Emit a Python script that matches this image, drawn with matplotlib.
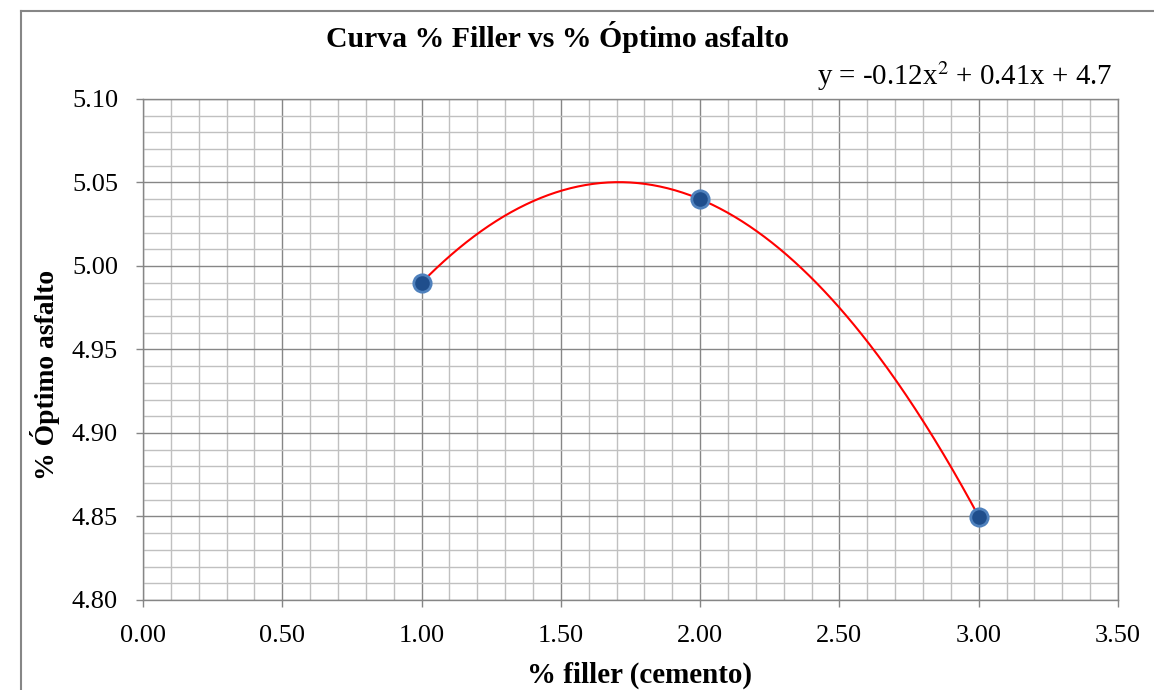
import numpy as np
import matplotlib
matplotlib.use("Agg")
import matplotlib.pyplot as plt
from matplotlib.ticker import MultipleLocator, FormatStrFormatter
from matplotlib.lines import Line2D

# Data
filler = [1.0, 2.0, 3.0]
optimo = [4.99, 5.04, 4.85]
title = "Curva % Filler vs % Óptimo asfalto"
xlabel = "% filler (cemento)"
ylabel = "% Óptimo asfalto"

plt.rcParams['font.family'] = ['Liberation Serif', 'DejaVu Serif']
plt.rcParams['mathtext.fontset'] = 'stix'

W, H = 1154, 690
fig = plt.figure(figsize=(W/100, H/100), dpi=100)
ax = fig.add_axes([143/W, 1 - 600/H, (1118-143)/W, (600-99)/H])

# polynomial trendline (order 2)
coef = np.polyfit(filler, optimo, 2)
xs = np.linspace(min(filler), max(filler), 300)
ax.plot(xs, np.polyval(coef, xs), color='#FF0000', lw=1.5, zorder=3)
ax.plot(filler, optimo, 'o', ms=12.5, mfc='#1F4E8C', mec='#4F81BD', mew=2, zorder=4)

ax.set_xlim(0, 3.5)
ax.set_ylim(4.80, 5.10)
ax.xaxis.set_major_locator(MultipleLocator(0.5))
ax.xaxis.set_minor_locator(MultipleLocator(0.1))
ax.yaxis.set_major_locator(MultipleLocator(0.05))
ax.yaxis.set_minor_locator(MultipleLocator(0.01))
ax.xaxis.set_major_formatter(FormatStrFormatter('%.2f'))
ax.yaxis.set_major_formatter(FormatStrFormatter('%.2f'))

ax.grid(which='major', color='#868686', lw=1.0, zorder=1)
ax.grid(which='minor', color='#C0C0C0', lw=1.0, zorder=0)
ax.set_axisbelow(True)

for s in ax.spines.values():
    s.set_color('#868686')
    s.set_linewidth(1.0)

ax.tick_params(which='major', length=5, width=1.0, color='#868686',
               labelsize=19, pad=13)
ax.tick_params(which='minor', length=0)

renderer = fig.canvas.get_renderer()

def fit(t, target, vertical=False):
    bb = t.get_window_extent(renderer)
    cur = bb.height if vertical else bb.width
    t.set_fontsize(t.get_fontsize() * target / cur)

t_title = fig.text((326 + 788) / 2 / W, 1 - 47/H, title, ha='center', va='baseline',
                   fontsize=22, fontweight='bold')
fit(t_title, 462)

t_x = fig.text((527 + 752) / 2 / W, 1 - 683/H, xlabel, ha='center', va='baseline',
               fontsize=20, fontweight='bold')
fit(t_x, 225)

t_y = fig.text(45/W, 1 - 375/H, ylabel, ha='center', va='center', rotation=90,
               fontsize=20, fontweight='bold')
fit(t_y, 210, vertical=True)

a, b, c = coef
eq = f"y = {a:.2f}x$^{{2}}$ + {b:.2f}x + {c:.1f}"
t_eq = fig.text(817/W, 1 - 85/H, eq, ha='left', va='baseline', fontsize=21)
fit(t_eq, 295)

# outer chart frame (left and top visible)
fig.add_artist(Line2D([21/W, 21/W], [0, 1 - 11/H], color='#868686', lw=1.5,
                      transform=fig.transFigure))
fig.add_artist(Line2D([21/W, 1], [1 - 11/H, 1 - 11/H], color='#868686', lw=1.5,
                      transform=fig.transFigure))

fig.savefig('out.png', dpi=100)
